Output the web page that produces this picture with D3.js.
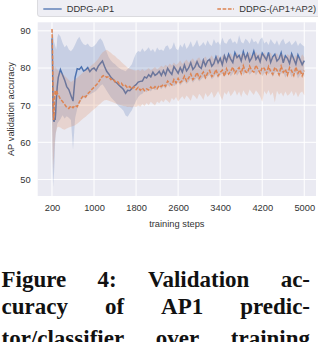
<!DOCTYPE html>
<html><head><meta charset="utf-8">
<script src="https://cdn.jsdelivr.net/npm/d3@7"></script>
<style>html,body{margin:0;padding:0;background:#fff;overflow:hidden}</style>
</head><body>
<svg id="c" width="318" height="342"></svg>
<script>
// ---------- data ----------
const headSteps = [200,210,220,230,240,250,260,270,280,290,300];
const steps = headSteps.concat(d3.range(320, 5001, 40));
const xTicks = [200,1000,1800,2600,3400,4200,5000];
const yTicks = [50,60,70,80,90];
const seriesNames = ["DDPG-AP1","DDPG-(AP1+AP2)"];

const ap1Mean = [88,80,70,66,65.5,66.5,66,68,71,73,75,
 77.5,79.6,78.2,76.8,75.0,74.2,72.6,71.1,77.5,79.8,
 79.6,80.3,79.2,79.5,80.1,79.0,79.7,80.0,79.3,80.5,
 81.2,81.9,80.4,79.1,78.4,77.5,77.0,76.3,75.9,75.3,
 74.8,74.2,73.2,74.0,73.9,74.5,75.1,75.5,76.2,76.4,
 76.5,77.6,77.3,78.2,77.6,78.9,78.0,78.4,79.1,78.0,
 79.3,78.1,79.9,79.0,78.3,80.4,79.5,78.6,80.1,78.9,
 80.8,79.2,80.0,81.4,79.6,80.3,81.7,80.4,79.9,82.1,
 80.6,81.9,82.3,80.5,81.2,83.0,81.4,82.6,80.9,83.3,
 81.8,83.7,82.4,81.5,84.1,82.8,83.4,81.9,84.4,82.5,
 83.9,81.8,82.7,84.5,82.3,83.2,81.7,84.0,83.1,82.2,
 84.2,81.5,83.0,83.7,81.9,82.5,84.1,81.4,83.3,82.6,
 81.2,83.8,82.4,81.0,83.5,82.2,80.9,82.0];
const ap1Lo = [66,55,48,50,52,55,60,62,63,64,65,
 65.5,66.2,67.3,66.4,67.0,66.6,66.0,58.0,66.5,69.0,
 70.6,71.4,72.0,71.8,72.6,72.9,73.2,73.5,73.9,74.5,
 75.2,75.6,74.8,73.9,73.0,72.1,71.5,70.9,70.2,69.6,
 69.1,68.5,67.2,66.9,67.8,68.6,70.0,71.2,72.2,72.8,
 73.1,73.8,73.5,74.2,73.7,74.5,74.0,74.4,74.9,74.3,
 75.0,74.4,75.5,74.9,75.8,75.1,75.5,76.2,75.3,76.0,
 76.6,75.7,76.3,77.1,76.0,76.8,77.4,76.4,77.0,77.6,
 76.9,77.7,78.2,77.0,77.5,78.4,77.3,78.0,78.6,77.5,
 78.3,78.9,77.7,78.5,79.2,77.9,78.7,79.3,78.1,78.8,
 79.1,78.2,78.8,79.4,78.0,78.9,79.2,77.8,78.6,79.0,
 78.3,78.9,77.6,78.7,79.1,77.8,78.5,78.9,77.4,78.4,
 78.8,77.5,78.3,78.7,77.2,78.1,78.5,77.6];
const ap1Hi = [90.5,90,89,88,87,86.5,86,85.5,85,86,88,
 89.2,88.5,86.8,85.6,86.2,85.0,84.5,85.2,86.3,87.6,
 88.4,87.2,86.4,86.1,86.6,85.8,85.6,85.9,86.5,87.4,
 88.0,87.3,85.8,84.3,82.9,82.0,81.4,81.0,80.4,80.0,
 79.6,79.4,79.1,79.7,80.3,81.0,82.6,84.0,84.6,84.3,
 85.3,84.4,84.9,85.6,84.5,85.1,84.2,85.5,84.8,85.0,
 84.6,85.8,86.1,84.9,85.4,86.9,85.2,84.8,86.3,85.5,
 86.8,85.1,85.9,87.2,85.6,86.4,87.6,85.8,86.2,87.0,
 86.0,87.5,86.4,85.9,87.8,86.6,87.1,86.1,88.2,86.8,
 86.5,87.6,88.0,86.7,87.2,86.4,88.8,87.0,86.6,87.9,
 87.4,86.5,88.1,86.9,87.3,86.3,87.7,88.3,86.6,87.1,
 86.2,87.8,86.9,86.3,87.5,86.0,87.2,87.9,86.4,86.8,
 87.3,86.1,86.7,87.4,85.9,86.8,86.2,85.8];

const ap12Mean = [90.5,84,72,66,67,72,74,73.5,72.5,74,73.2,
 72.8,71.6,71.0,70.2,69.4,69.1,69.8,69.3,69.9,69.6,
 70.8,71.9,72.6,72.2,73.1,73.6,74.3,74.8,75.4,76.0,
 77.0,77.8,78.0,77.5,77.7,76.9,77.1,76.3,76.5,75.7,
 75.9,75.1,75.3,74.6,75.0,74.3,74.9,74.2,74.8,74.0,
 74.6,73.9,74.4,74.1,74.9,74.3,75.0,74.4,75.3,75.0,
 75.6,75.1,76.5,75.9,75.4,76.9,76.0,77.2,76.1,76.6,
 77.8,76.5,77.3,78.4,76.9,77.6,78.8,77.2,78.1,78.9,
 77.4,78.6,79.3,77.7,78.2,79.6,77.9,78.8,79.4,77.8,
 79.8,78.4,79.1,80.3,78.6,79.5,80.1,78.5,80.6,79.0,
 78.7,80.5,79.3,78.9,80.8,79.6,78.6,80.2,79.9,78.5,
 80.4,79.1,78.3,80.2,79.4,78.2,80.5,78.8,79.6,78.1,
 80.1,79.2,78.0,80.3,78.6,79.5,77.9,79.3];
const ap12Lo = [66,58,52,55,56,59,61,62.5,63,63.5,64,
 64.2,64.0,63.6,63.4,63.7,64.0,64.2,64.4,64.6,65.0,
 65.5,66.0,66.5,66.9,67.4,67.9,68.4,68.9,69.4,69.9,
 70.4,70.9,71.3,71.4,71.2,71.0,70.8,70.5,70.3,70.1,
 70.0,69.8,69.7,69.5,69.6,69.4,69.7,69.5,69.9,69.6,
 70.3,69.8,70.6,70.0,70.9,70.4,69.9,71.0,70.5,71.3,
 70.8,71.6,71.1,70.6,71.9,71.3,72.2,71.0,71.7,72.4,
 71.5,72.6,72.0,71.2,72.9,72.3,71.6,73.1,72.4,71.4,
 73.3,72.2,72.8,73.6,71.9,72.7,73.8,72.5,71.3,73.5,
 72.8,73.9,72.4,73.2,74.1,72.6,73.7,72.2,74.0,73.1,
 72.5,74.2,73.4,72.7,74.0,73.3,72.4,70.9,73.8,72.9,
 74.1,72.6,73.5,70.7,73.9,72.8,73.4,72.3,73.7,72.5,
 73.0,73.8,72.4,73.6,72.1,73.3,73.7,72.6];
const ap12Hi = [91,90,86,80,79,80,80.5,80,79.5,80,79.5,
 79.3,78.8,78.4,77.9,77.4,76.8,76.2,76.6,77.0,77.4,
 77.9,78.4,78.9,79.3,79.8,80.3,80.8,81.3,81.8,82.5,
 83.4,84.2,84.6,84.9,84.5,84.1,83.6,83.2,82.6,82.2,
 81.6,81.1,80.6,80.1,79.8,79.6,79.4,79.3,79.5,79.2,
 79.7,79.2,79.5,80.0,79.3,79.8,80.3,79.6,80.1,80.6,
 80.2,80.9,80.4,81.2,80.7,81.5,80.8,81.3,82.0,81.1,
 81.7,82.3,81.4,82.0,82.6,81.6,82.4,82.9,81.8,82.5,
 83.1,82.0,82.7,83.4,82.3,82.9,83.6,82.4,83.2,83.8,
 82.7,83.5,84.0,82.9,83.6,84.2,83.0,83.7,84.1,83.2,
 83.9,84.3,83.1,83.8,84.4,83.3,84.0,83.5,84.2,83.0,
 83.7,84.1,82.9,83.6,84.0,82.8,83.9,83.4,82.7,83.8,
 83.2,83.9,82.6,83.5,83.1,82.5,83.7,82.9];

const captionLines = [
  ["Figure","4:","Validation","ac-"],
  ["curacy","of","AP1","predic-"],
  ["tor/classifier","over","training"]
];

// ---------- drawing ----------
const svg = d3.select("#c");
const W = 318, H = 342;
const plot = {l:37.7, r:316, t:22.3, b:196};
const x = d3.scaleLinear().domain([-72, 5223]).range([plot.l, plot.r]);
const y = d3.scaleLinear().domain([45.55, 92.3]).range([plot.b, plot.t]);
const colors = ["#4C72B0", "#DD8452"];
const font = "'Liberation Sans', Arial, sans-serif";
const txtCol = "#333";

svg.append("rect").attr("x",0).attr("y",0).attr("width",W).attr("height",H).attr("fill","#fff");
svg.append("rect").attr("x",plot.l).attr("y",plot.t)
  .attr("width",plot.r-plot.l).attr("height",plot.b-plot.t).attr("fill","#EAEAF2");

svg.append("defs").append("clipPath").attr("id","clip").append("rect")
  .attr("x",plot.l).attr("y",plot.t).attr("width",plot.r-plot.l).attr("height",plot.b-plot.t);

// gridlines
const grid = svg.append("g");
grid.selectAll(".gx").data(xTicks).join("line")
  .attr("x1",d=>x(d)).attr("x2",d=>x(d)).attr("y1",plot.t).attr("y2",plot.b)
  .attr("stroke","#fff").attr("stroke-width",1);
grid.selectAll(".gy").data(yTicks).join("line")
  .attr("y1",d=>y(d)).attr("y2",d=>y(d)).attr("x1",plot.l).attr("x2",plot.r)
  .attr("stroke","#fff").attr("stroke-width",1);

// series
const series = [
  {mean: ap1Mean, lo: ap1Lo, hi: ap1Hi, color: colors[0], dash: null},
  {mean: ap12Mean, lo: ap12Lo, hi: ap12Hi, color: colors[1], dash: "3.7,1.6"}
];
const g = svg.append("g").attr("clip-path","url(#clip)");
series.forEach(s => {
  const pts = steps.map((st,i)=>({s:st, m:s.mean[i], lo:s.lo[i], hi:s.hi[i]}));
  g.append("path").datum(pts)
    .attr("d", d3.area().x(d=>x(d.s)).y0(d=>y(d.lo)).y1(d=>y(d.hi)))
    .attr("fill", s.color).attr("fill-opacity", 0.22);
  g.append("path").datum(pts)
    .attr("d", d3.line().x(d=>x(d.s)).y(d=>y(d.m)))
    .attr("fill","none").attr("stroke", s.color).attr("stroke-width",1.5)
    .attr("stroke-dasharray", s.dash);
});

// axes (no spines, no tick marks)
const xAxis = svg.append("g").attr("transform",`translate(0,${plot.b})`)
  .call(d3.axisBottom(x).tickValues(xTicks).tickSize(0).tickPadding(0).tickFormat(d3.format("d")));
xAxis.select(".domain").remove();
xAxis.selectAll("text").attr("y", 14.5).attr("dy", null)
  .attr("font-family", font).attr("font-size", 9.3).attr("fill", txtCol);

const yAxis = svg.append("g").attr("transform",`translate(${plot.l},0)`)
  .call(d3.axisLeft(y).tickValues(yTicks).tickSize(0).tickPadding(7).tickFormat(d3.format("d")));
yAxis.select(".domain").remove();
yAxis.selectAll("text").attr("font-family", font).attr("font-size", 9.3).attr("fill", txtCol);

svg.append("text").attr("x", (plot.l+plot.r)/2).attr("y", 226.5)
  .attr("text-anchor","middle").attr("font-family", font).attr("font-size", 9.3)
  .attr("fill", txtCol).text("training steps");
svg.append("text").attr("transform",`translate(13.6,${(plot.t+plot.b)/2}) rotate(-90)`)
  .attr("text-anchor","middle").attr("font-family", font).attr("font-size", 9.3)
  .attr("fill", txtCol).text("AP validation accuracy");

// legend
const lg = svg.append("g");
lg.append("rect").attr("x",37.5).attr("y",-4).attr("width",284).attr("height",20.5)
  .attr("rx",2.5).attr("fill","#EEEEF4").attr("stroke","#d4d4d8").attr("stroke-width",0.8);
const legendPos = [{x1:43.3, x2:61.7, tx:66.7}, {x1:217.3, x2:234, tx:239.3}];
seriesNames.forEach((nm,i) => {
  lg.append("line").attr("x1",legendPos[i].x1).attr("x2",legendPos[i].x2)
    .attr("y1",9).attr("y2",9).attr("stroke",colors[i]).attr("stroke-width",1.3)
    .attr("stroke-dasharray", series[i].dash);
  lg.append("text").attr("x",legendPos[i].tx).attr("y",12.3)
    .attr("font-family", font).attr("font-size", 9.3).attr("fill", txtCol).text(nm);
});

// caption (justified)
const capLeft = 1.5, capRight = 310;
const baselines = [287.3, 314.3, 345.5];
captionLines.forEach((words, li) => {
  const cg = svg.append("g");
  const nodes = words.map(w => cg.append("text").text(w)
    .attr("y", baselines[li]).attr("font-family","'Liberation Serif','Times New Roman',serif")
    .attr("font-weight","bold").attr("font-size",23).attr("fill","#111"));
  const widths = nodes.map(n => n.node().getComputedTextLength());
  const gap = (capRight - capLeft - d3.sum(widths)) / (words.length - 1);
  let cx = capLeft;
  nodes.forEach((n,i) => { n.attr("x", cx); cx += widths[i] + gap; });
});
</script>
</body></html>
